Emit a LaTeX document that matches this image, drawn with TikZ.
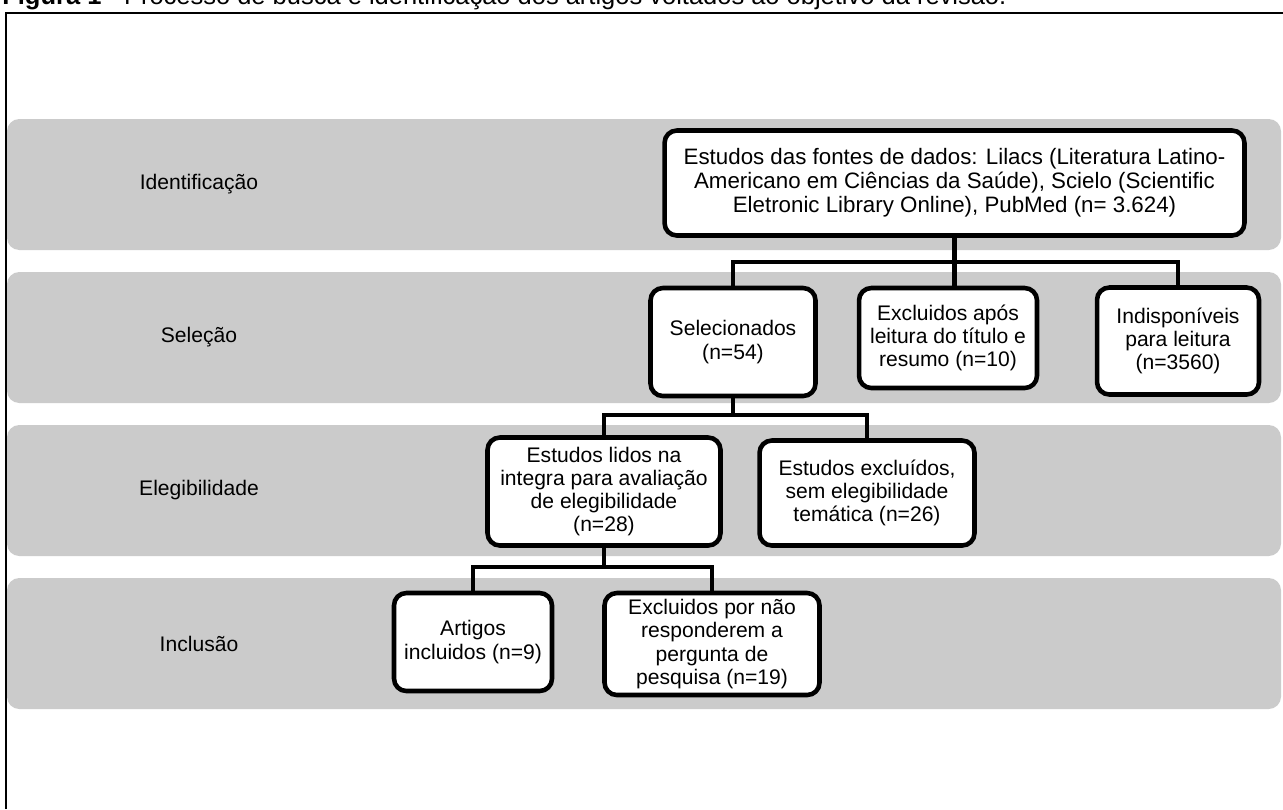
\documentclass[tikz,border=0pt]{standalone}
\usepackage{fontspec}
\setmainfont{Liberation Sans}
\usepackage{xcolor}
\usetikzlibrary{positioning, calc}

\definecolor{bandgray}{RGB}{203,203,203}

\begin{document}
\begin{tikzpicture}[
    x=0.02cm, y=-0.02cm,
    font=\fontsize{12pt}{13.2pt}\selectfont,
    band/.style={fill=bandgray, draw=none, rounded corners=7pt},
    stage/.style={inner sep=0pt, anchor=center},
    box/.style={rectangle, draw, line width=2.6pt, rounded corners=7pt, fill=white, align=center, inner sep=2pt},
    link/.style={line width=2.6pt}
]
\useasboundingbox (0,0) rectangle (1283,809);

% Frame and caption
\node[anchor=base west, inner sep=0pt, font=\fontsize{14.5pt}{16pt}\selectfont] (caption) at (2,4) {\textbf{Figura 1 -} Processo de busca e identificação dos artigos voltados ao objetivo da revisão.};
\draw[line width=1.1pt] (6,809) -- (6,13) -- (1283,13);

% Bands
\foreach \y/\name/\lab in {119/ident/Identificação, 272/selec/Seleção, 425/eleg/Elegibilidade, 578/incl/Inclusão}{
  \path[band] (7,\y) rectangle (1281,\y+131);
  \node[stage] (\name) at (199,\y+65.5) {\lab};
}

% Nodes
\node (fontes) [box, minimum width=11.6cm, minimum height=2.1cm, font=\fontsize{12.7pt}{13.7pt}\selectfont] at (954.5,183) {Estudos das fontes de dados: Lilacs (Literatura Latino-\\Americano em Ciências da Saúde), Scielo (Scientific\\Eletronic Library Online), PubMed (n= 3.624)};

\node (sel) [box, minimum width=3.3cm, minimum height=2.16cm] at (733,342) {Selecionados\\(n=54)};
\node (excla) [box, minimum width=3.56cm, minimum height=2.0cm] at (948,338) {Excluidos após\\leitura do título e\\resumo (n=10)};
\node (indisp) [box, minimum width=3.24cm, minimum height=2.14cm] at (1178,341) {Indisponíveis\\para leitura\\(n=3560)};

\node (lidos) [box, minimum width=4.66cm, minimum height=2.16cm] at (604,491.5) {Estudos lidos na\\integra para avaliação\\de elegibilidade\\(n=28)};
\node (exclb) [box, minimum width=4.3cm, minimum height=2.1cm] at (867,493) {Estudos excluídos,\\sem elegibilidade\\temática (n=26)};

\node (artigos) [box, minimum width=3.16cm, minimum height=1.96cm] at (473,642) {Artigos\\incluidos (n=9)};
\node (exclc) [box, minimum width=4.3cm, minimum height=2.04cm] at (712,644) {Excluidos por não\\responderem a\\pergunta de\\pesquisa (n=19)};

% Connectors
\coordinate (bara) at (0,262);
\coordinate (barb) at (0,415);
\coordinate (barc) at (0,567);

\draw[link] (fontes.south) -- (fontes.south |- excla.north);
\draw[link] (sel.north) |- (indisp.north |- bara) -- (indisp.north);

\draw[link] (sel.south) -- (sel.south |- barb);
\draw[link] (lidos.north) |- (exclb.north |- barb) -- (exclb.north);

\draw[link] (lidos.south) -- (lidos.south |- barc);
\draw[link] (artigos.north) |- (exclc.north |- barc) -- (exclc.north);

\end{tikzpicture}
\end{document}
